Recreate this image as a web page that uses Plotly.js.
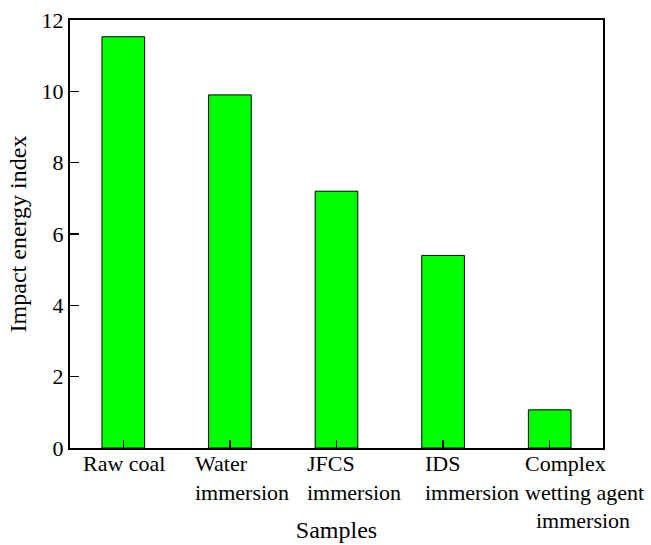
<!DOCTYPE html>
<html>
<head>
<meta charset="utf-8">
<script src="https://cdn.plot.ly/plotly-3.0.1.min.js"></script>
<style>html,body{margin:0;padding:0;background:#fff;}#chart{width:651px;height:545px;}</style>
</head>
<body>
<div id="chart"></div>
<script>
const categories = ["Raw coal", "Water immersion", "JFCS immersion", "IDS immersion", "Complex wetting agent immersion"];
const tickLabels = ["Raw coal", "Water<br>immersion", "JFCS<br>immersion", "IDS<br>immersion", "Complex<br>wetting agent<br>&nbsp;&nbsp;immersion"];
const impactEnergyIndex = [11.53, 9.9, 7.2, 5.4, 1.07];
const yTicks = [0, 2, 4, 6, 8, 10, 12];

const labelShift = [-42, -37, -32, -20, -27];
const font = "Liberation Serif, Times New Roman, serif";

const trace = {
  type: "bar",
  x: categories.map((c, i) => i),
  y: impactEnergyIndex,
  width: 0.4,
  marker: {color: "#00ff00", line: {color: "#000", width: 1}},
  hoverinfo: "skip"
};

const annotations = tickLabels.map((t, i) => ({
  text: t,
  x: i, xref: "x",
  y: 0, yref: "paper",
  xanchor: "left", yanchor: "top",
  align: "left",
  xshift: labelShift[i], yshift: -1,
  showarrow: false,
  font: {family: font, size: 22, color: "#000"}
}));

const layout = {
  width: 651, height: 545,
  margin: {l: 70, r: 48, t: 20, b: 97},
  paper_bgcolor: "#fff", plot_bgcolor: "#fff",
  showlegend: false,
  font: {family: font, color: "#000"},
  xaxis: {
    range: [-0.5, 4.5],
    tickmode: "array", tickvals: categories.map((c, i) => i),
    showticklabels: false,
    ticks: "inside", ticklen: 8, tickwidth: 1.5, tickcolor: "#000",
    showline: true, linecolor: "#000", linewidth: 2, mirror: true,
    showgrid: false, zeroline: false,
    title: {text: "Samples", font: {family: font, size: 24, color: "#000"}, standoff: 72}
  },
  yaxis: {
    range: [0, 12],
    tickmode: "array", tickvals: yTicks, ticktext: yTicks.map(String),
    ticks: "inside", ticklen: 9, tickwidth: 1.5, tickcolor: "#000",
    tickfont: {family: font, size: 22, color: "#000"},
    showline: true, linecolor: "#000", linewidth: 2, mirror: true,
    showgrid: false, zeroline: false,
    title: {text: "Impact energy index", font: {family: font, size: 24, color: "#000"}, standoff: 8}
  },
  annotations: annotations
};

Plotly.newPlot("chart", [trace], layout, {displayModeBar: false, staticPlot: true});
</script>
</body>
</html>
